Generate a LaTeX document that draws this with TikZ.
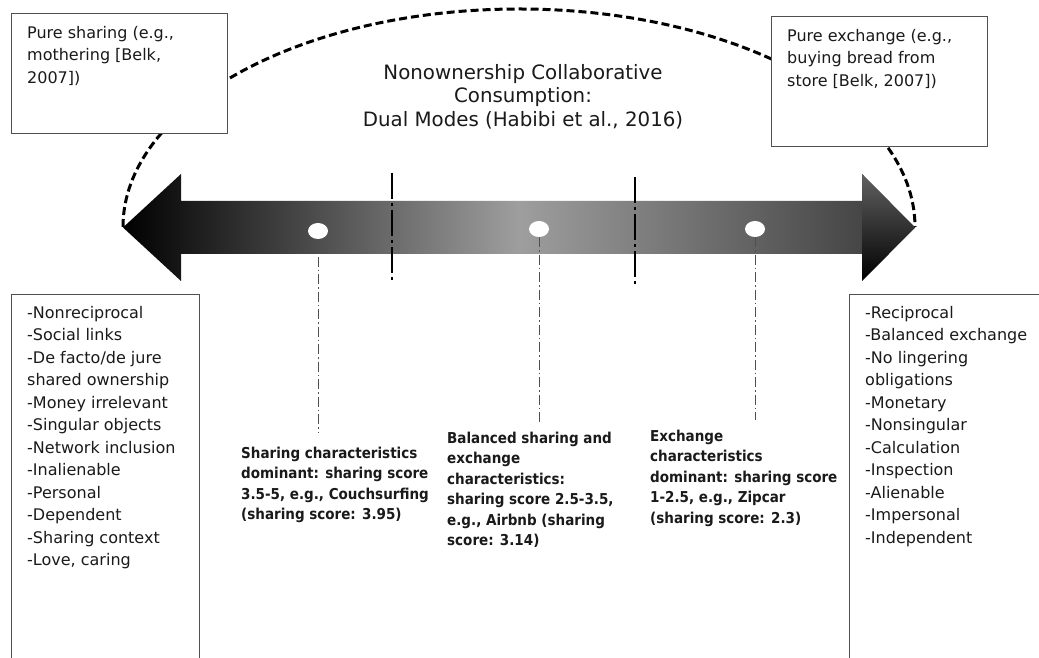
\documentclass[tikz,border=0pt]{standalone}
\usepackage{fontspec}
\setmainfont{DejaVu Sans}
\newfontfamily\condbold{DejaVu Sans Condensed}[BoldFont={DejaVu Sans Condensed Bold}]
\usetikzlibrary{shapes.geometric}
\definecolor{txt}{HTML}{1A1A1A}
\definecolor{edge}{HTML}{505050}
\tikzset{
  box/.style={draw=edge, line width=1.3pt, fill=white, rectangle, inner sep=0pt, anchor=north west},
  boxtext/.style={anchor=north west, inner sep=0pt, align=left, text=txt, font=\fontsize{16}{22.5}\selectfont},
  lowtext/.style={anchor=north west, inner sep=0pt, align=left, text=txt, font=\condbold\bfseries\fontsize{15}{20.4}\selectfont},
  titletext/.style={anchor=north, inner sep=0pt, align=center, text=txt, font=\fontsize{19.8}{23.5}\selectfont},
  arcline/.style={line width=3pt, dash pattern=on 8pt off 4pt, black},
  divider/.style={line width=2.4pt, black, dash pattern=on 26pt off 4pt on 3pt off 4pt},
  guide/.style={line width=0.9pt, edge, dash pattern=on 10pt off 3pt on 1.5pt off 3pt},
  dot/.style={ellipse, fill=white, minimum width=20pt, minimum height=16pt, inner sep=0pt}
}
\begin{document}
\begin{tikzpicture}[x=1pt,y=1pt]
\useasboundingbox (0,0) rectangle (1039,658);
\clip (0,0) rectangle (1039,658);
\fill[white] (0,0) rectangle (1039,658);

% dashed half ellipse
\coordinate (arcL) at (123,431);
\coordinate (arcR) at (915,431);
\draw[arcline] (arcL) arc[start angle=180, end angle=0, x radius=396, y radius=218];

% top boxes
\node[box, minimum width=216pt, minimum height=120pt] (psbox) at (11,645) {};
\node[boxtext] (pstext) at (27,632) {Pure sharing (e.g.,\\mothering [Belk,\\2007])};
\node[box, minimum width=216pt, minimum height=130pt] (pebox) at (771,642) {};
\node[boxtext] (petext) at (787,629) {Pure exchange (e.g.,\\buying bread from\\store [Belk, 2007])};

% title
\node[titletext] (title) at (523,594) {Nonownership Collaborative\\Consumption:\\Dual Modes (Habibi et al., 2016)};

% double arrow
\shade[left color=black, right color=black!78, middle color=black!38]
  (123,430.5) -- (181,484) -- (181,457) -- (862,457) -- (862,484) -- (915,430.5)
  -- (862,377) -- (862,404) -- (181,404) -- (181,377) -- cycle;
\shade[top color=black!62, bottom color=black]
  (862,484) -- (915,430.5) -- (862,377) -- cycle;

% dividers
\coordinate (d1t) at (392,485); \coordinate (d1b) at (392,377);
\coordinate (d2t) at (635,481); \coordinate (d2b) at (635,373);
\draw[divider] (d1t) -- (d1b);
\draw[divider] (d2t) -- (d2b);

% dots and guide lines
\node[dot] (dot1) at (318,427) {};
\node[dot] (dot2) at (539,429) {};
\node[dot] (dot3) at (755,429) {};
\coordinate (g1) at (318,225);
\coordinate (g2) at (539,236);
\coordinate (g3) at (755,238);
\draw[guide] (dot1.south) -- (g1);
\draw[guide] (dot2.south) -- (g2);
\draw[guide] (dot3.south) -- (g3);

% lower labels
\node[lowtext] (lsh) at (241,211) {Sharing characteristics\\dominant: sharing score\\3.5-5, e.g., Couchsurfing\\(sharing score: 3.95)};
\node[lowtext] (lba) at (447,226) {Balanced sharing and\\exchange\\characteristics:\\sharing score 2.5-3.5,\\e.g., Airbnb (sharing\\score: 3.14)};
\node[lowtext] (lex) at (650,228) {Exchange\\characteristics\\dominant: sharing score\\1-2.5, e.g., Zipcar\\(sharing score: 2.3)};

% bottom boxes
\node[box, minimum width=188pt, minimum height=380pt] (shbox) at (11,364) {};
\node[boxtext] (shtext) at (27,352) {-Nonreciprocal\\-Social links\\-De facto/de jure\\shared ownership\\-Money irrelevant\\-Singular objects\\-Network inclusion\\-Inalienable\\-Personal\\-Dependent\\-Sharing context\\-Love, caring};
\node[box, minimum width=200pt, minimum height=380pt] (exbox) at (849,364) {};
\node[boxtext] (extext) at (865,352) {-Reciprocal\\-Balanced exchange\\-No lingering\\obligations\\-Monetary\\-Nonsingular\\-Calculation\\-Inspection\\-Alienable\\-Impersonal\\-Independent};
\end{tikzpicture}
\end{document}
